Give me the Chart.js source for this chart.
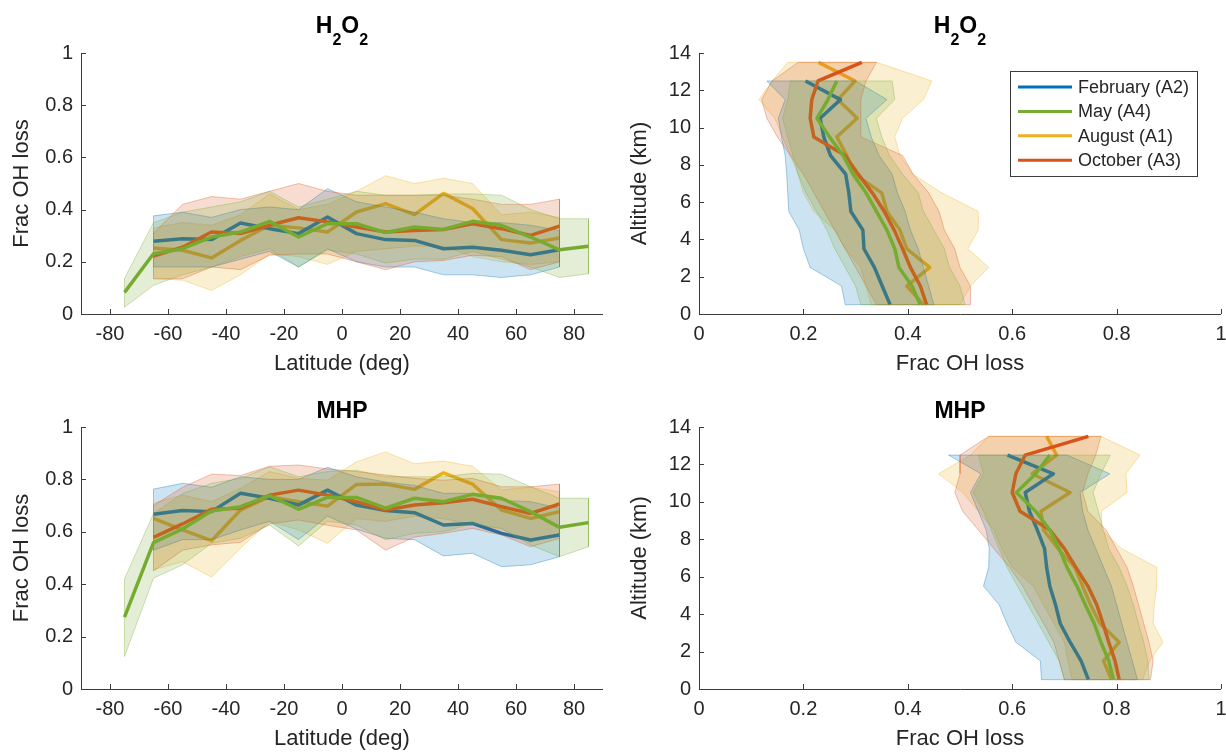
<!DOCTYPE html>
<html>
<head>
<meta charset="utf-8">
<title>Frac OH loss</title>
<script src="https://cdn.jsdelivr.net/npm/chart.js@4.4.1/dist/chart.umd.min.js"></script>
<style>
  html, body { margin: 0; padding: 0; background: #fff; }
  #wrap { position: relative; width: 1226px; height: 753px; overflow: hidden; }
  #wrap canvas { position: absolute; left: 0; top: 0; }
</style>
</head>
<body>
<div id="wrap">
  <canvas id="h2o2Lat" width="1226" height="753"></canvas>
  <canvas id="h2o2Alt" width="1226" height="753"></canvas>
  <canvas id="mhpLat" width="1226" height="753"></canvas>
  <canvas id="mhpAlt" width="1226" height="753"></canvas>
</div>
<script>
// bins
const latAll = [-75, -65, -55, -45, -35, -25, -15, -5, 5, 15, 25, 35, 45, 55, 65, 75, 85];
const latMid = [-65, -55, -45, -35, -25, -15, -5, 5, 15, 25, 35, 45, 55, 65, 75];
const altLow = [0.5, 1.5, 2.5, 3.5, 4.5, 5.5, 6.5, 7.5, 8.5, 9.5, 10.5, 11.5, 12.5];
const altAll = [0.5, 1.5, 2.5, 3.5, 4.5, 5.5, 6.5, 7.5, 8.5, 9.5, 10.5, 11.5, 12.5, 13.5];

const latTicks = [-80, -60, -40, -20, 0, 20, 40, 60, 80];
const fracTicks = [0, 0.2, 0.4, 0.6, 0.8, 1];
const altTicks = [0, 2, 4, 6, 8, 10, 12, 14];

const months = ['February (A2)', 'May (A4)', 'August (A1)', 'October (A3)'];

// H2O2, zonal (Feb/Aug/Oct on latMid, May on latAll)
const h2o2LatFeb   = [0.279, 0.288, 0.285, 0.349, 0.327, 0.308, 0.372, 0.308, 0.285, 0.282, 0.250, 0.256, 0.244, 0.227, 0.246];
const h2o2LatFebLo = [0.180, 0.180, 0.180, 0.210, 0.240, 0.180, 0.250, 0.200, 0.180, 0.180, 0.150, 0.150, 0.140, 0.150, 0.180];
const h2o2LatFebHi = [0.376, 0.390, 0.370, 0.400, 0.410, 0.400, 0.480, 0.430, 0.410, 0.390, 0.365, 0.350, 0.350, 0.340, 0.320];
const h2o2LatMay   = [0.083, 0.231, 0.250, 0.295, 0.314, 0.355, 0.295, 0.346, 0.346, 0.312, 0.333, 0.324, 0.355, 0.340, 0.295, 0.246, 0.260];
const h2o2LatMayLo = [0.026, 0.110, 0.150, 0.180, 0.220, 0.250, 0.180, 0.245, 0.230, 0.195, 0.210, 0.210, 0.240, 0.210, 0.180, 0.140, 0.154];
const h2o2LatMayHi = [0.137, 0.350, 0.390, 0.410, 0.430, 0.470, 0.410, 0.440, 0.470, 0.455, 0.455, 0.460, 0.460, 0.455, 0.400, 0.365, 0.365];
const h2o2LatAug   = [0.253, 0.244, 0.215, 0.282, 0.340, 0.330, 0.314, 0.391, 0.423, 0.381, 0.462, 0.404, 0.285, 0.272, 0.291];
const h2o2LatAugLo = [0.135, 0.130, 0.090, 0.150, 0.230, 0.220, 0.190, 0.240, 0.250, 0.260, 0.260, 0.220, 0.200, 0.190, 0.200];
const h2o2LatAugHi = [0.330, 0.350, 0.340, 0.380, 0.460, 0.400, 0.420, 0.470, 0.530, 0.500, 0.520, 0.500, 0.380, 0.390, 0.370];
const h2o2LatOct   = [0.222, 0.256, 0.314, 0.308, 0.340, 0.369, 0.353, 0.333, 0.314, 0.320, 0.324, 0.346, 0.327, 0.301, 0.337];
const h2o2LatOctLo = [0.135, 0.135, 0.180, 0.170, 0.225, 0.230, 0.230, 0.200, 0.170, 0.200, 0.205, 0.225, 0.220, 0.170, 0.200];
const h2o2LatOctHi = [0.310, 0.420, 0.450, 0.440, 0.470, 0.500, 0.470, 0.455, 0.455, 0.455, 0.455, 0.440, 0.420, 0.420, 0.440];

// H2O2, vertical (Feb/May on altLow, Aug/Oct on altAll)
const h2o2AltFeb   = [0.366, 0.351, 0.336, 0.316, 0.314, 0.291, 0.287, 0.281, 0.252, 0.239, 0.232, 0.271, 0.204];
const h2o2AltFebLo = [0.280, 0.273, 0.213, 0.200, 0.192, 0.172, 0.170, 0.168, 0.165, 0.158, 0.152, 0.165, 0.130];
const h2o2AltFebHi = [0.450, 0.440, 0.430, 0.420, 0.405, 0.395, 0.380, 0.370, 0.345, 0.330, 0.320, 0.360, 0.300];
const h2o2AltMay   = [0.424, 0.408, 0.383, 0.375, 0.360, 0.340, 0.320, 0.295, 0.276, 0.250, 0.226, 0.247, 0.264];
const h2o2AltMayLo = [0.310, 0.300, 0.280, 0.260, 0.245, 0.225, 0.205, 0.190, 0.180, 0.170, 0.160, 0.170, 0.175];
const h2o2AltMayHi = [0.510, 0.500, 0.480, 0.470, 0.450, 0.430, 0.420, 0.390, 0.365, 0.350, 0.340, 0.375, 0.370];
const h2o2AltAug   = [0.430, 0.398, 0.442, 0.398, 0.385, 0.360, 0.350, 0.298, 0.283, 0.264, 0.303, 0.266, 0.299, 0.229];
const h2o2AltAugLo = [0.330, 0.320, 0.310, 0.280, 0.260, 0.220, 0.200, 0.190, 0.175, 0.160, 0.145, 0.115, 0.140, 0.170];
const h2o2AltAugHi = [0.500, 0.520, 0.555, 0.515, 0.535, 0.535, 0.465, 0.410, 0.385, 0.375, 0.390, 0.430, 0.446, 0.340];
const h2o2AltOct   = [0.436, 0.424, 0.405, 0.390, 0.374, 0.355, 0.332, 0.305, 0.280, 0.220, 0.213, 0.216, 0.228, 0.312];
const h2o2AltOctLo = [0.340, 0.320, 0.300, 0.280, 0.260, 0.240, 0.220, 0.200, 0.175, 0.150, 0.130, 0.120, 0.140, 0.190];
const h2o2AltOctHi = [0.520, 0.520, 0.500, 0.490, 0.470, 0.460, 0.440, 0.410, 0.390, 0.310, 0.310, 0.310, 0.320, 0.340];

// MHP, zonal
const mhpLatFeb   = [0.667, 0.681, 0.677, 0.747, 0.728, 0.702, 0.759, 0.702, 0.681, 0.673, 0.626, 0.632, 0.594, 0.569, 0.588];
const mhpLatFebLo = [0.530, 0.570, 0.570, 0.607, 0.640, 0.570, 0.660, 0.610, 0.575, 0.570, 0.508, 0.518, 0.467, 0.474, 0.505];
const mhpLatFebHi = [0.763, 0.785, 0.770, 0.810, 0.800, 0.800, 0.846, 0.810, 0.790, 0.777, 0.747, 0.747, 0.720, 0.715, 0.690];
const mhpLatMay   = [0.274, 0.559, 0.611, 0.679, 0.696, 0.738, 0.686, 0.731, 0.731, 0.690, 0.728, 0.715, 0.743, 0.728, 0.677, 0.617, 0.635];
const mhpLatMayLo = [0.124, 0.423, 0.474, 0.556, 0.575, 0.626, 0.546, 0.640, 0.626, 0.570, 0.594, 0.600, 0.632, 0.613, 0.550, 0.505, 0.543];
const mhpLatMayHi = [0.420, 0.670, 0.746, 0.785, 0.804, 0.848, 0.810, 0.830, 0.835, 0.810, 0.810, 0.810, 0.823, 0.820, 0.772, 0.728, 0.728];
const mhpLatAug   = [0.651, 0.607, 0.566, 0.683, 0.734, 0.715, 0.698, 0.781, 0.782, 0.762, 0.825, 0.782, 0.683, 0.651, 0.677];
const mhpLatAugLo = [0.455, 0.486, 0.427, 0.537, 0.640, 0.607, 0.556, 0.650, 0.640, 0.660, 0.650, 0.630, 0.610, 0.560, 0.595];
const mhpLatAugHi = [0.710, 0.740, 0.715, 0.766, 0.830, 0.804, 0.797, 0.867, 0.905, 0.860, 0.870, 0.850, 0.760, 0.770, 0.753];
const mhpLatOct   = [0.579, 0.630, 0.686, 0.690, 0.740, 0.759, 0.740, 0.715, 0.683, 0.702, 0.711, 0.724, 0.696, 0.670, 0.706];
const mhpLatOctLo = [0.450, 0.530, 0.550, 0.560, 0.630, 0.645, 0.625, 0.607, 0.530, 0.580, 0.594, 0.613, 0.588, 0.543, 0.575];
const mhpLatOctHi = [0.700, 0.770, 0.820, 0.815, 0.850, 0.855, 0.840, 0.830, 0.817, 0.804, 0.797, 0.804, 0.772, 0.772, 0.782];

// MHP, vertical
const mhpAltFeb   = [0.746, 0.732, 0.711, 0.692, 0.683, 0.672, 0.666, 0.662, 0.648, 0.633, 0.625, 0.679, 0.591];
const mhpAltFebLo = [0.656, 0.654, 0.607, 0.590, 0.575, 0.545, 0.555, 0.556, 0.550, 0.535, 0.520, 0.540, 0.478];
const mhpAltFebHi = [0.840, 0.830, 0.820, 0.810, 0.800, 0.790, 0.775, 0.760, 0.745, 0.735, 0.730, 0.787, 0.705];
const mhpAltMay   = [0.794, 0.785, 0.770, 0.757, 0.740, 0.724, 0.705, 0.690, 0.672, 0.645, 0.608, 0.645, 0.672];
const mhpAltMayLo = [0.700, 0.690, 0.670, 0.650, 0.630, 0.610, 0.590, 0.575, 0.560, 0.545, 0.525, 0.545, 0.535];
const mhpAltMayHi = [0.862, 0.860, 0.852, 0.842, 0.832, 0.820, 0.805, 0.785, 0.775, 0.765, 0.755, 0.770, 0.788];
const mhpAltAug   = [0.790, 0.775, 0.805, 0.768, 0.750, 0.735, 0.720, 0.688, 0.660, 0.655, 0.711, 0.638, 0.685, 0.666];
const mhpAltAugLo = [0.715, 0.707, 0.700, 0.680, 0.660, 0.640, 0.600, 0.580, 0.565, 0.535, 0.505, 0.459, 0.520, 0.555];
const mhpAltAugHi = [0.850, 0.863, 0.889, 0.870, 0.872, 0.877, 0.877, 0.810, 0.771, 0.771, 0.820, 0.818, 0.845, 0.770];
const mhpAltOct   = [0.805, 0.797, 0.785, 0.774, 0.762, 0.745, 0.722, 0.700, 0.672, 0.615, 0.600, 0.607, 0.625, 0.746];
const mhpAltOctLo = [0.700, 0.690, 0.680, 0.660, 0.640, 0.620, 0.595, 0.565, 0.535, 0.505, 0.490, 0.500, 0.500, 0.555];
const mhpAltOctHi = [0.865, 0.870, 0.862, 0.852, 0.842, 0.832, 0.820, 0.800, 0.780, 0.745, 0.735, 0.745, 0.760, 0.770];

const FONT = '"Liberation Sans", Arial, Helvetica, sans-serif';
const INK = '#262626';
const FEB = [0, 114, 189], MAY = [119, 172, 48], AUG = [237, 177, 32], OCT = [217, 83, 25];
const rgba = (c, a) => `rgba(${c[0]},${c[1]},${c[2]},${a})`;

Chart.defaults.font.family = FONT;
Chart.defaults.color = INK;

function linePts(pos, vals, vertical) {
  return pos.map((p, i) => vertical ? {x: vals[i], y: p} : {x: p, y: vals[i]});
}

// closed outline: along the upper bound, back along the lower bound
function bandPts(pos, lo, hi, vertical) {
  const pts = linePts(pos, hi, vertical);
  for (let i = pos.length - 1; i >= 0; i--) {
    pts.push(vertical ? {x: lo[i], y: pos[i]} : {x: pos[i], y: lo[i]});
  }
  pts.push(pts[0]);
  return pts;
}

function lineSet(label, c, pts, order) {
  return {label, data: pts, borderColor: rgba(c, 1), borderWidth: 3.5, pointRadius: 0,
          fill: false, order, borderJoinStyle: 'round'};
}
function bandSet(c, pts, order) {
  return {data: pts, borderColor: rgba(c, 0.35), borderWidth: 1, backgroundColor: rgba(c, 0.2),
          pointRadius: 0, fill: 'shape', order};
}

// MATLAB-style axes: left + bottom lines, ticks pointing inward
const axesPlugin = {
  id: 'inwardAxes',
  afterDatasetsDraw(chart) {
    const {ctx, chartArea: a, scales: {x, y}} = chart;
    ctx.save();
    ctx.strokeStyle = '#3c3c3c';
    ctx.lineWidth = 1;
    ctx.beginPath();
    ctx.moveTo(a.left + 0.5, a.top);
    ctx.lineTo(a.left + 0.5, a.bottom + 0.5);
    ctx.lineTo(a.right, a.bottom + 0.5);
    x.ticks.forEach(t => {
      const px = Math.round(x.getPixelForValue(t.value)) + 0.5;
      ctx.moveTo(px, a.bottom);
      ctx.lineTo(px, a.bottom - 5);
    });
    y.ticks.forEach(t => {
      const py = Math.round(y.getPixelForValue(t.value)) + 0.5;
      ctx.moveTo(a.left, py);
      ctx.lineTo(a.left + 5, py);
    });
    ctx.stroke();
    ctx.restore();
  }
};

// bold title with optional subscripts
const titlePlugin = {
  id: 'panelTitle',
  afterDraw(chart, args, opts) {
    const {ctx, chartArea: a} = chart;
    const big = `bold 23px ${FONT}`, small = `bold 16px ${FONT}`;
    ctx.save();
    let w = 0;
    opts.parts.forEach(([txt, sub]) => { ctx.font = sub ? small : big; w += ctx.measureText(txt).width; });
    let x = (a.left + a.right) / 2 - w / 2;
    const base = a.top - opts.gap;
    ctx.fillStyle = '#000';
    ctx.textAlign = 'left';
    ctx.textBaseline = 'alphabetic';
    opts.parts.forEach(([txt, sub]) => {
      ctx.font = sub ? small : big;
      ctx.fillText(txt, x, sub ? base + 12 : base);
      x += ctx.measureText(txt).width;
    });
    ctx.restore();
  }
};

const legendPlugin = {
  id: 'monthLegend',
  afterDraw(chart, args, opts) {
    if (!opts.show) return;
    const {ctx} = chart;
    const {x, y, w, h} = opts.box;
    ctx.save();
    ctx.fillStyle = '#fff';
    ctx.fillRect(x, y, w, h);
    ctx.strokeStyle = '#3c3c3c';
    ctx.lineWidth = 1;
    ctx.strokeRect(x + 0.5, y + 0.5, w, h);
    ctx.font = `18px ${FONT}`;
    ctx.textBaseline = 'middle';
    ctx.textAlign = 'left';
    months.forEach((m, i) => {
      const ry = y + 16 + i * 24.4;
      ctx.strokeStyle = rgba(opts.colors[i], 1);
      ctx.lineWidth = 3;
      ctx.beginPath();
      ctx.moveTo(x + 8, ry);
      ctx.lineTo(x + 62, ry);
      ctx.stroke();
      ctx.fillStyle = INK;
      ctx.fillText(m, x + 68, ry + 1);
    });
    ctx.restore();
  }
};

function fixedBox(size) {
  return function (scale) {
    if (scale.isHorizontal()) scale.height = size; else scale.width = size;
    scale.paddingLeft = scale.paddingRight = scale.paddingTop = scale.paddingBottom = 0;
  };
}

function axis(min, max, ticks, title, size) {
  return {
    type: 'linear', min, max,
    grid: {display: false, drawTicks: false},
    border: {display: false},
    afterBuildTicks: s => { s.ticks = ticks.map(v => ({value: v})); },
    afterFit: fixedBox(size),
    ticks: {autoSkip: false, maxRotation: 0, padding: 8, color: INK,
            font: {size: 20}, callback: v => String(v)},
    title: {display: true, text: title, color: INK, font: {size: 22}, padding: 0}
  };
}

function panel(id, area, vertical, pos, data, title, legend) {
  // draw order bottom -> top: Aug, Feb, Oct, May (line, then its band)
  const [feb, may, aug, oct] = data;
  const datasets = [
    lineSet(months[2], AUG, linePts(pos[2], aug[0], vertical), 8),
    bandSet(AUG, bandPts(pos[2], aug[1], aug[2], vertical), 7),
    lineSet(months[0], FEB, linePts(pos[0], feb[0], vertical), 6),
    bandSet(FEB, bandPts(pos[0], feb[1], feb[2], vertical), 5),
    lineSet(months[3], OCT, linePts(pos[3], oct[0], vertical), 4),
    bandSet(OCT, bandPts(pos[3], oct[1], oct[2], vertical), 3),
    lineSet(months[1], MAY, linePts(pos[1], may[0], vertical), 2),
    bandSet(MAY, bandPts(pos[1], may[1], may[2], vertical), 1)
  ];
  const yW = 72, xH = 63;
  new Chart(document.getElementById(id), {
    type: 'line',
    data: {datasets},
    options: {
      responsive: false,
      animation: false,
      events: [],
      layout: {padding: {left: area.left - yW, top: area.top, right: 1226 - area.right, bottom: 753 - area.bottom - xH}},
      scales: vertical
        ? {x: axis(0, 1, fracTicks, 'Frac OH loss', xH), y: axis(0, 14, altTicks, 'Altitude (km)', yW)}
        : {x: axis(-90, 90, latTicks, 'Latitude (deg)', xH), y: axis(0, 1, fracTicks, 'Frac OH loss', yW)},
      plugins: {
        legend: {display: false},
        tooltip: {enabled: false},
        panelTitle: title,
        monthLegend: {show: !!legend, box: {x: 1010, y: 71, w: 187, h: 105}, colors: [FEB, MAY, AUG, OCT]}
      }
    },
    plugins: [axesPlugin, titlePlugin, legendPlugin]
  });
}

const h2o2Title = {parts: [['H', 0], ['2', 1], ['O', 0], ['2', 1]], gap: 20};
const mhpTitle = {parts: [['MHP', 0]], gap: 9};

panel('h2o2Lat', {left: 81, top: 53, right: 603, bottom: 314}, false,
  [latMid, latAll, latMid, latMid],
  [[h2o2LatFeb, h2o2LatFebLo, h2o2LatFebHi], [h2o2LatMay, h2o2LatMayLo, h2o2LatMayHi],
   [h2o2LatAug, h2o2LatAugLo, h2o2LatAugHi], [h2o2LatOct, h2o2LatOctLo, h2o2LatOctHi]],
  h2o2Title, false);

panel('h2o2Alt', {left: 699, top: 53, right: 1221, bottom: 314}, true,
  [altLow, altLow, altAll, altAll],
  [[h2o2AltFeb, h2o2AltFebLo, h2o2AltFebHi], [h2o2AltMay, h2o2AltMayLo, h2o2AltMayHi],
   [h2o2AltAug, h2o2AltAugLo, h2o2AltAugHi], [h2o2AltOct, h2o2AltOctLo, h2o2AltOctHi]],
  h2o2Title, true);

panel('mhpLat', {left: 81, top: 427, right: 603, bottom: 689}, false,
  [latMid, latAll, latMid, latMid],
  [[mhpLatFeb, mhpLatFebLo, mhpLatFebHi], [mhpLatMay, mhpLatMayLo, mhpLatMayHi],
   [mhpLatAug, mhpLatAugLo, mhpLatAugHi], [mhpLatOct, mhpLatOctLo, mhpLatOctHi]],
  mhpTitle, false);

panel('mhpAlt', {left: 699, top: 427, right: 1221, bottom: 689}, true,
  [altLow, altLow, altAll, altAll],
  [[mhpAltFeb, mhpAltFebLo, mhpAltFebHi], [mhpAltMay, mhpAltMayLo, mhpAltMayHi],
   [mhpAltAug, mhpAltAugLo, mhpAltAugHi], [mhpAltOct, mhpAltOctLo, mhpAltOctHi]],
  mhpTitle, false);
</script>
</body>
</html>
